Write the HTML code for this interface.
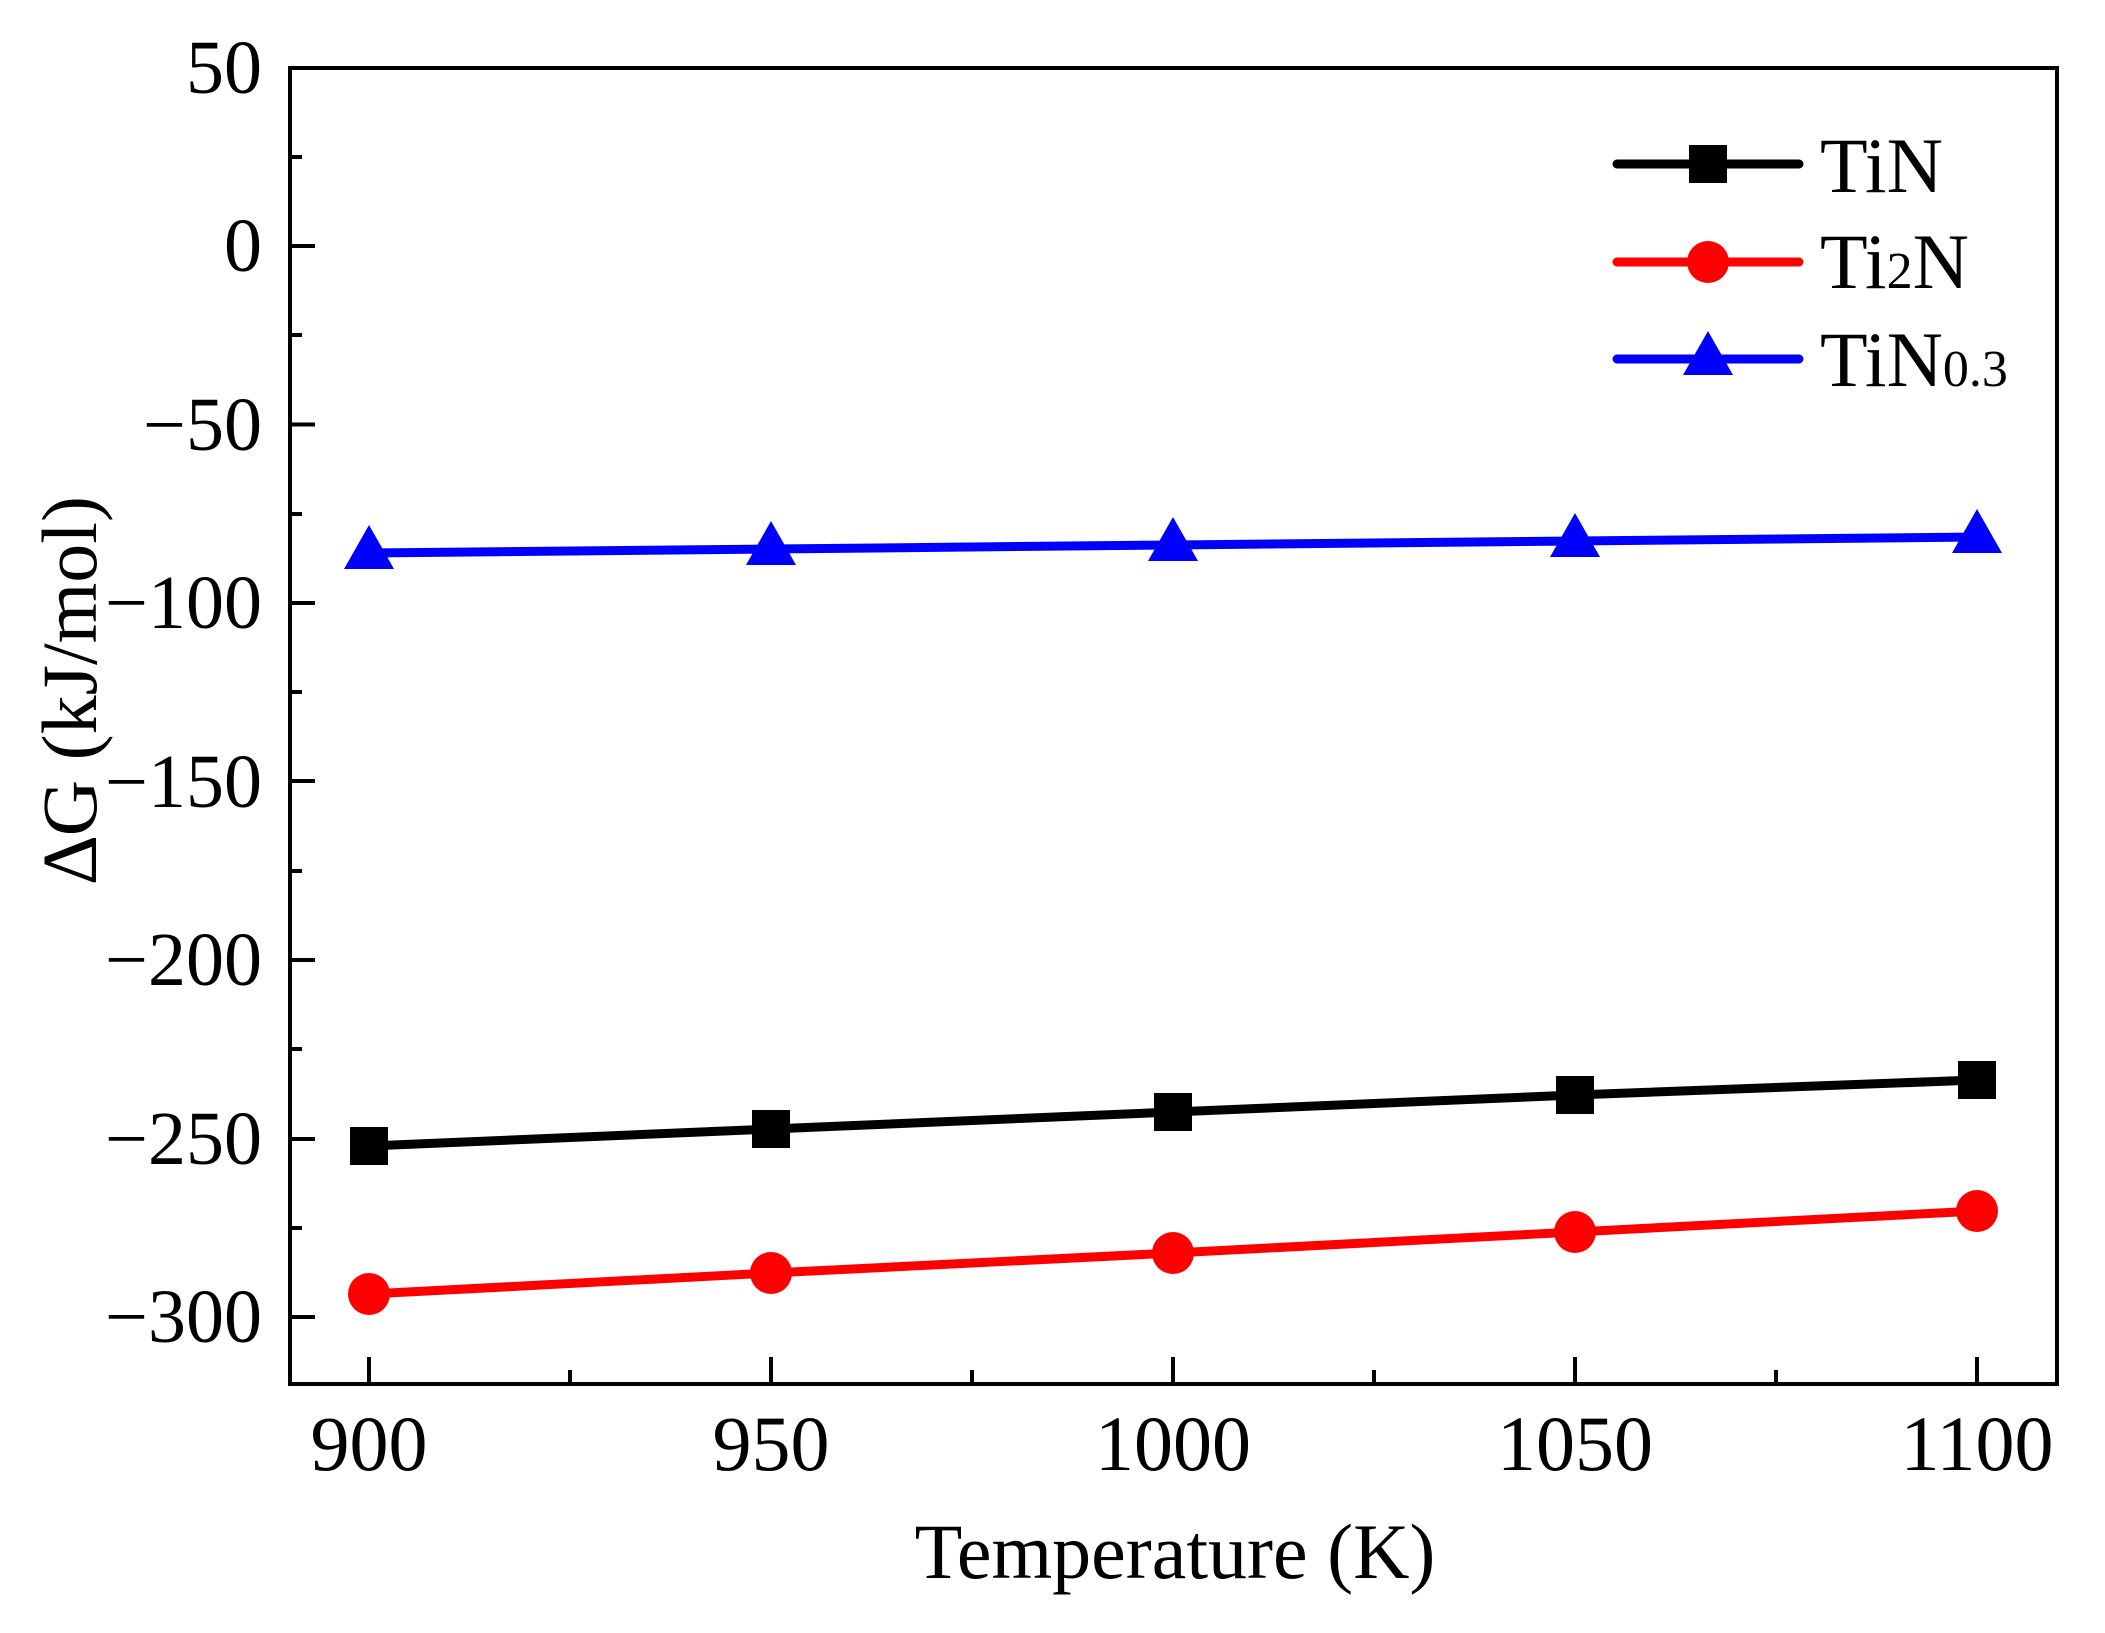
<!DOCTYPE html>
<html><head><meta charset="utf-8"><style>html,body{margin:0;padding:0;background:#fff}svg{display:block}</style></head>
<body>
<svg width="2105" height="1633" viewBox="0 0 2105 1633" xmlns="http://www.w3.org/2000/svg" font-family="Liberation Serif, serif">
<rect x="290" y="68" width="1767" height="1316" fill="none" stroke="#000" stroke-width="4"/>
<g stroke="#000" stroke-width="4">
<line x1="290" y1="68" x2="315" y2="68"/>
<line x1="290" y1="157" x2="302" y2="157"/>
<line x1="290" y1="246" x2="315" y2="246"/>
<line x1="290" y1="335" x2="302" y2="335"/>
<line x1="290" y1="424.5" x2="315" y2="424.5"/>
<line x1="290" y1="514" x2="302" y2="514"/>
<line x1="290" y1="603" x2="315" y2="603"/>
<line x1="290" y1="692" x2="302" y2="692"/>
<line x1="290" y1="781" x2="315" y2="781"/>
<line x1="290" y1="871" x2="302" y2="871"/>
<line x1="290" y1="960" x2="315" y2="960"/>
<line x1="290" y1="1049" x2="302" y2="1049"/>
<line x1="290" y1="1139" x2="315" y2="1139"/>
<line x1="290" y1="1228" x2="302" y2="1228"/>
<line x1="290" y1="1317" x2="315" y2="1317"/>
<line x1="369" y1="1384" x2="369" y2="1357"/>
<line x1="570" y1="1384" x2="570" y2="1370"/>
<line x1="771" y1="1384" x2="771" y2="1357"/>
<line x1="972" y1="1384" x2="972" y2="1370"/>
<line x1="1173" y1="1384" x2="1173" y2="1357"/>
<line x1="1374" y1="1384" x2="1374" y2="1370"/>
<line x1="1575" y1="1384" x2="1575" y2="1357"/>
<line x1="1776" y1="1384" x2="1776" y2="1370"/>
<line x1="1977" y1="1384" x2="1977" y2="1357"/>
</g>
<g font-size="76" text-anchor="end" fill="#000">
<text x="262" y="93">50</text>
<text x="262" y="271">0</text>
<text x="262" y="450">−50</text>
<text x="262" y="628">−100</text>
<text x="262" y="807">−150</text>
<text x="262" y="985">−200</text>
<text x="262" y="1164">−250</text>
<text x="262" y="1342">−300</text>
</g>
<g font-size="78" text-anchor="middle" fill="#000">
<text x="369" y="1470">900</text>
<text x="771" y="1470">950</text>
<text x="1173" y="1470">1000</text>
<text x="1575" y="1470">1050</text>
<text x="1977" y="1470">1100</text>
<text x="1175" y="1578">Temperature (K)</text>
<text transform="translate(96,690) rotate(-90)">∆G (kJ/mol)</text>
</g>
<polyline points="369,1146 771,1129 1173,1112 1575,1095 1977,1080" fill="none" stroke="#000" stroke-width="9"/>
<g fill="#000">
<rect x="350" y="1127" width="38" height="38"/>
<rect x="752" y="1110" width="38" height="38"/>
<rect x="1154" y="1093" width="38" height="38"/>
<rect x="1556" y="1076" width="38" height="38"/>
<rect x="1958" y="1061" width="38" height="38"/>
</g>
<polyline points="369,1294 771,1273 1173,1253 1575,1232 1977,1211" fill="none" stroke="#f00" stroke-width="9"/>
<g fill="#f00">
<circle cx="369" cy="1294" r="21"/>
<circle cx="771" cy="1273" r="21"/>
<circle cx="1173" cy="1253" r="21"/>
<circle cx="1575" cy="1232" r="21"/>
<circle cx="1977" cy="1211" r="21"/>
</g>
<polyline points="369,553 771,549 1173,545 1575,541 1977,537" fill="none" stroke="#00f" stroke-width="9"/>
<g fill="#00f">
<polygon points="369,525 344,569 394,569"/>
<polygon points="771,521 746,565 796,565"/>
<polygon points="1173,517 1148,561 1198,561"/>
<polygon points="1575,513 1550,557 1600,557"/>
<polygon points="1977,509 1952,553 2002,553"/>
</g>
<line x1="1617" y1="164" x2="1799" y2="164" stroke="#000" stroke-width="9" stroke-linecap="round"/>
<rect x="1689" y="145" width="38" height="38" fill="#000"/>
<line x1="1617" y1="262" x2="1799" y2="262" stroke="#f00" stroke-width="9" stroke-linecap="round"/>
<circle cx="1708" cy="262" r="21" fill="#f00"/>
<line x1="1617" y1="359" x2="1799" y2="359" stroke="#00f" stroke-width="9" stroke-linecap="round"/>
<polygon points="1708,331 1683,375 1733,375" fill="#00f"/>
<g font-size="78" fill="#000">
<text x="1820" y="192">TiN</text>
<text x="1820" y="288">Ti<tspan font-size="52">2</tspan>N</text>
<text x="1820" y="386">TiN<tspan font-size="52">0.3</tspan></text>
</g>
</svg>
</body></html>
